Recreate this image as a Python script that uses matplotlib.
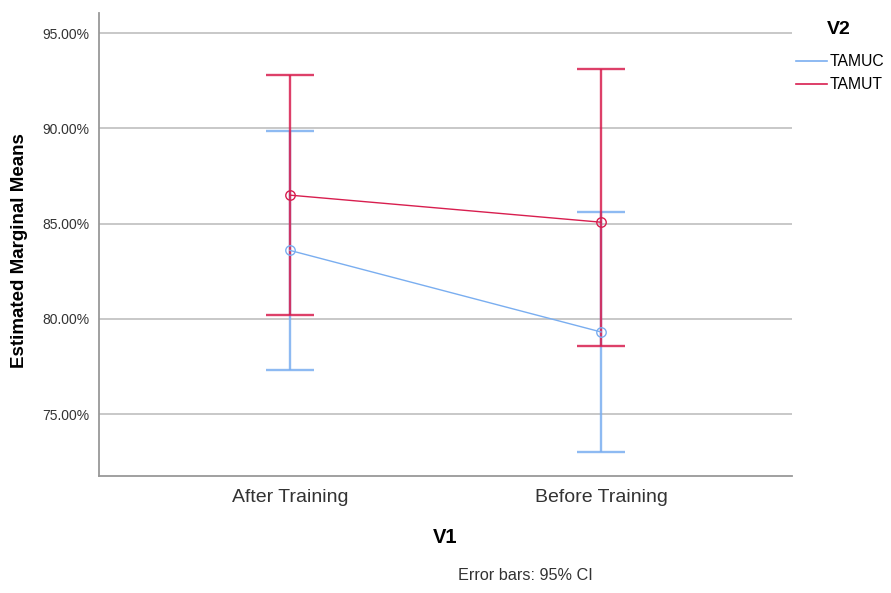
import matplotlib
matplotlib.use("Agg")
import matplotlib.pyplot as plt
from matplotlib.lines import Line2D

plt.rcParams['font.family'] = ['Liberation Sans', 'DejaVu Sans']

# Estimated marginal means (%) with 95% CI bounds
categories = ["After Training", "Before Training"]
groups = ["TAMUC", "TAMUT"]
means = {
    "TAMUC": [83.59, 79.31],
    "TAMUT": [86.49, 85.07],
}
ci_low = {
    "TAMUC": [77.29, 73.03],
    "TAMUT": [80.18, 78.56],
}
ci_high = {
    "TAMUC": [89.87, 85.61],
    "TAMUT": [92.79, 93.10],
}
yticks = [75, 80, 85, 90, 95]
colors = {"TAMUC": "#7aaef0", "TAMUT": "#d81e4f"}

fig = plt.figure(figsize=(8.91, 5.93), dpi=100)
ax = fig.add_axes([99 / 891, 1 - 476 / 593, (792 - 99) / 891, (476 - 13) / 593])

xpos = list(range(len(categories)))
for g in groups:
    c = colors[g]
    lo = [m - l for m, l in zip(means[g], ci_low[g])]
    hi = [h - m for m, h in zip(means[g], ci_high[g])]
    ax.errorbar(xpos, means[g], yerr=[lo, hi], fmt="none", ecolor=c,
                elinewidth=1.7, capsize=17, capthick=1.7, alpha=0.85, zorder=3)
    ax.plot(xpos, means[g], color=c, lw=1.0, marker="o", ms=6.8,
            mfc="none", mec=c, mew=1.0, zorder=4)

ax.set_xlim(-0.614, 1.614)
ax.set_ylim(71.75, 96.05)
ax.set_xticks(xpos)
ax.set_xticklabels(categories, fontsize=14, color="#333333")
ax.set_yticks(yticks)
ax.set_yticklabels([f"{v:.2f}%" for v in yticks], fontsize=10, color="#333333")
ax.tick_params(axis="both", length=0)
ax.tick_params(axis="x", pad=9)
ax.tick_params(axis="y", pad=7)
ax.grid(axis="y", color="#c8c8c8", lw=1.4, zorder=0)
ax.set_axisbelow(True)
for s in ("top", "right"):
    ax.spines[s].set_visible(False)
for s in ("left", "bottom"):
    ax.spines[s].set_color("#999999")
    ax.spines[s].set_linewidth(1.3)

ax.set_ylabel("Estimated Marginal Means", fontsize=13.5, fontweight="bold")
ax.yaxis.set_label_coords(-0.102, 0.486)
ax.set_xlabel("V1", fontsize=14.5, fontweight="bold", labelpad=16)

handles = [Line2D([0], [0], color=colors[g], lw=1.2) for g in groups]
leg = fig.legend(handles, groups, loc="upper left", bbox_to_anchor=(790 / 891, 1 - 48 / 593),
                 frameon=False, fontsize=11.3, handlelength=1.95,
                 handletextpad=0.2, labelspacing=0.5, borderaxespad=0)
fig.text(827 / 891, 1 - 30 / 593, "V2", ha="left", va="center",
         fontsize=14, fontweight="bold")

fig.text(525 / 891, 1 - 576 / 593, "Error bars: 95% CI", ha="center", va="center",
         fontsize=11.7, color="#333333")

fig.savefig("out.png", dpi=100, facecolor="white")
